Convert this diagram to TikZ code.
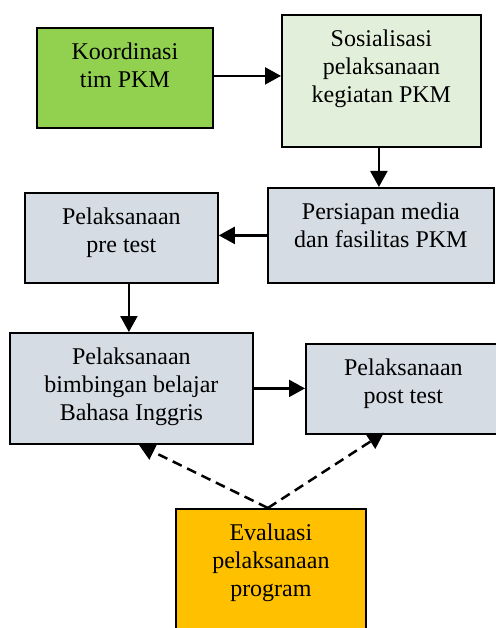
\documentclass[tikz,border=0pt]{standalone}
\usepackage{fontspec}
\setmainfont{Liberation Serif}
\usetikzlibrary{arrows.meta,calc}
\definecolor{cgreen}{HTML}{92D050}
\definecolor{clgreen}{HTML}{E2EFDA}
\definecolor{cgray}{HTML}{D6DCE4}
\definecolor{corange}{HTML}{FFC000}
\newcommand\boxtxt[3]{\parbox[c][#2][t]{#1}{\centering\rule{0pt}{32pt}#3}}
\begin{document}
\begin{tikzpicture}[x=1pt,y=-1pt,
  stepbox/.style={draw=black, line width=1.8pt, inner sep=0pt, anchor=north west,
    font=\fontsize{24}{28}\selectfont},
  arr/.style={line width=2.2pt, -{Triangle[length=16pt,width=17pt]}},
  darr/.style={arr, line width=2.5pt, dash pattern=on 10pt off 6pt}]
\useasboundingbox (0,0) rectangle (495,628);
\node[stepbox, fill=cgreen] (b1) at (36,27) {\boxtxt{176pt}{100pt}{Koordinasi\\tim PKM}};
\node[stepbox, fill=clgreen] (b2) at (281,14) {\boxtxt{199pt}{132pt}{Sosialisasi\\pelaksanaan\\kegiatan PKM}};
\node[stepbox, fill=cgray] (b3) at (267,187) {\boxtxt{226pt}{95pt}{Persiapan media\\dan fasilitas PKM}};
\node[stepbox, fill=cgray] (b4) at (24,192) {\boxtxt{193pt}{90pt}{Pelaksanaan\\pre test}};
\node[stepbox, fill=cgray] (b5) at (9,332) {\boxtxt{243pt}{111pt}{Pelaksanaan\\bimbingan belajar\\Bahasa Inggris}};
\node[stepbox, fill=cgray] (b6) at (305,343) {\boxtxt{195pt}{90pt}{Pelaksanaan\\post test}};
\node[stepbox, fill=corange] (b7) at (175,508) {\boxtxt{190pt}{140pt}{Evaluasi\\pelaksanaan\\program}};
% connectors
\coordinate (a1) at ([yshift=2pt]b1.east);
\draw[arr] (a1) -- (a1 -| b2.west);
\coordinate (a2) at ([xshift=-2.5pt]b2.south);
\draw[arr] (a2) -- (a2 |- b3.north);
\draw[arr] (b3.west) -- (b3.west -| b4.east);
\coordinate (a4) at ([xshift=7.5pt]b4.south);
\draw[arr] (a4) -- (a4 |- b5.north);
\draw[arr] (b5.east) -- (b5.east -| b6.west);
\coordinate (e0) at ([xshift=-3pt]b7.north);
\coordinate (t5) at ([xshift=7.5pt]b5.south);
\coordinate (t6) at ([xshift=-19.5pt,yshift=2pt]b6.south);
\draw[darr] (e0) -- (t5);
\draw[darr] (e0) -- (t6);
\end{tikzpicture}
\end{document}
